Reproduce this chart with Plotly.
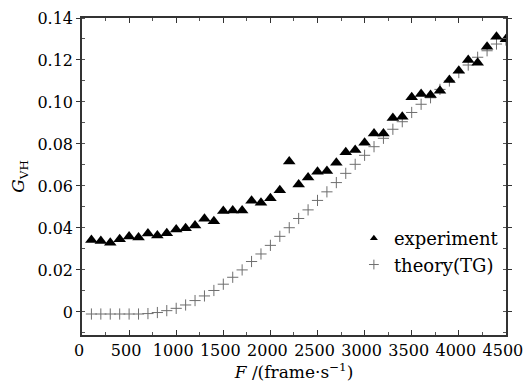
import plotly.graph_objects as go

frame_rate = [100, 200, 300, 400, 500, 600, 700, 800, 900, 1000,
              1100, 1200, 1300, 1400, 1500, 1600, 1700, 1800, 1900, 2000,
              2100, 2200, 2300, 2400, 2500, 2600, 2700, 2800, 2900, 3000,
              3100, 3200, 3300, 3400, 3500, 3600, 3700, 3800, 3900, 4000,
              4100, 4200, 4300, 4400, 4500]

experiment = [0.0343, 0.0338, 0.0330, 0.0346, 0.0359, 0.0355, 0.0373, 0.0364, 0.0375, 0.0392,
              0.0398, 0.0411, 0.0444, 0.0432, 0.0481, 0.0483, 0.0483, 0.0530, 0.0520, 0.0541,
              0.0580, 0.0717, 0.0607, 0.0640, 0.0668, 0.0671, 0.0711, 0.0760, 0.0771, 0.0806,
              0.0850, 0.0850, 0.0924, 0.0930, 0.1022, 0.1038, 0.1033, 0.1054, 0.1105, 0.1149,
              0.1200, 0.1187, 0.1263, 0.1311, 0.1299]

theory = [-0.0010, -0.0010, -0.0010, -0.0010, -0.0010, -0.0010, -0.0008, -0.0003, 0.0006, 0.0017,
          0.0033, 0.0054, 0.0076, 0.0102, 0.0132, 0.0165, 0.0200, 0.0240, 0.0276, 0.0317,
          0.0360, 0.0401, 0.0445, 0.0486, 0.0531, 0.0572, 0.0616, 0.0660, 0.0703, 0.0746,
          0.0787, 0.0827, 0.0870, 0.0906, 0.0950, 0.0989, 0.1020, 0.1060, 0.1100, 0.1140,
          0.1176, 0.1213, 0.1244, 0.1276, 0.1295]

x_ticks = [0, 500, 1000, 1500, 2000, 2500, 3000, 3500, 4000, 4500]
y_ticks = [0, 0.02, 0.04, 0.06, 0.08, 0.10, 0.12, 0.14]
y_tick_labels = ["0", "0.02", "0.04", "0.06", "0.08", "0.10", "0.12", "0.14"]

FONT = "'DejaVu Serif', 'Liberation Serif', serif"
GRAY = "#6e6e6e"

fig = go.Figure()
fig.add_trace(go.Scatter(
    x=frame_rate, y=theory, mode="markers", name="theory(TG)", showlegend=False,
    marker=dict(symbol="cross-thin-open", size=8, color=GRAY, line=dict(color=GRAY, width=1)),
))
fig.add_trace(go.Scatter(
    x=frame_rate, y=experiment, mode="markers", name="experiment", showlegend=False,
    marker=dict(symbol="triangle-up", size=11, color="black"),
))
# legend entries
fig.add_trace(go.Scatter(
    x=[None], y=[None], mode="markers", name="experiment",
    marker=dict(symbol="triangle-up", size=7, color="black"),
))
fig.add_trace(go.Scatter(
    x=[None], y=[None], mode="markers", name="theory(TG)",
    marker=dict(symbol="cross-thin-open", size=7, color=GRAY, line=dict(color=GRAY, width=1)),
))

axis_common = dict(
    showline=True, linecolor="#333333", linewidth=1.5, mirror="allticks",
    showgrid=False, zeroline=False, tickcolor="#333333", automargin=False,
    tickfont=dict(family=FONT, size=16, color="black"),
)

fig.update_xaxes(
    range=[0, 4501], tickmode="array", tickvals=x_ticks,
    ticks="inside", ticklen=5, tickwidth=1,
    ticklabelshift=-3, ticklabeloverflow="allow",
    minor=dict(ticks="inside", ticklen=3, dtick=250, tickcolor="#555555"),
    title=dict(text="<i>F</i> /(frame·s<sup>−1</sup>)", font=dict(family=FONT, size=17, color="black"),
               standoff=2),
    **axis_common,
)
fig.update_yaxes(
    range=[-0.011, 0.14], tickmode="array", tickvals=y_ticks, ticktext=y_tick_labels,
    ticks="outside", ticklen=4, tickwidth=1,
    minor=dict(ticks="inside", ticklen=3, dtick=0.01, tickcolor="#555555"),
    title=dict(text="<i>G</i><sub>VH</sub>", font=dict(family=FONT, size=17, color="black"),
               standoff=8),
    **axis_common,
)

fig.update_layout(
    width=524, height=382,
    margin=dict(l=82, r=18, t=18, b=47),
    paper_bgcolor="white", plot_bgcolor="white",
    font=dict(family=FONT, size=16, color="black"),
    legend=dict(x=0.995, y=0.363, xanchor="right", yanchor="top",
                bgcolor="rgba(0,0,0,0)", font=dict(family=FONT, size=18, color="black"),
                itemwidth=30, tracegroupgap=0),
)

fig.write_html("out.html", config={"displayModeBar": False},
               post_script="document.body.style.margin='0';")
